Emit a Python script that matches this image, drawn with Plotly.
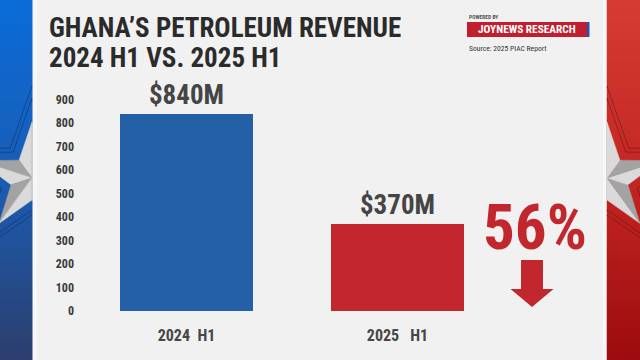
import math
import plotly.graph_objects as go

# ---- data ----
categories = ["2024\u00a0\u00a0H1", "2025\u00a0\u00a0\u00a0H1"]
revenue_musd = [840, 370]
y_ticks = [0, 100, 200, 300, 400, 500, 600, 700, 800, 900]
bar_colors = ["#2360a8", "#c1272d"]

W, H = 640, 360
def X(px):
    return px / W
def Y(py):
    return 1 - py / H

FONT = "Roboto Condensed, Liberation Sans Narrow, Roboto, DejaVu Sans Condensed, sans-serif"

decline = round((revenue_musd[0] - revenue_musd[1]) / revenue_musd[0] * 100)

fig = go.Figure()
fig.add_trace(go.Bar(
    x=categories, y=revenue_musd, width=0.63,
    marker=dict(color=bar_colors, line=dict(width=0)),
    texttemplate="$%{y}M", textposition="outside", cliponaxis=False,
    constraintext="none",
    outsidetextfont=dict(family=FONT, size=27, color="#454545", weight="bold"),
    hoverinfo="skip",
))

shapes = []
def rect(x0, y0, x1, y1, color):
    shapes.append(dict(type="rect", xref="paper", yref="paper",
                       x0=X(x0), x1=X(x1), y0=Y(y0), y1=Y(y1),
                       fillcolor=color, line=dict(width=0), layer="below"))

def lerp(c0, c1, t):
    return "rgb(%d,%d,%d)" % tuple(round(a + (b - a) * t) for a, b in zip(c0, c1))

# gradient strips
nb = 36
blue_top, blue_mid, blue_bot = (10, 108, 216), (26, 92, 180), (45, 62, 108)
red_top, red_mid, red_bot = (212, 60, 50), (196, 38, 34), (156, 11, 14)
for i in range(nb):
    t = (i + 0.5) / nb
    if t < 0.5:
        cb = lerp(blue_top, blue_mid, t * 2); cr = lerp(red_top, red_mid, t * 2)
    else:
        cb = lerp(blue_mid, blue_bot, (t - 0.5) * 2); cr = lerp(red_mid, red_bot, (t - 0.5) * 2)
    y0 = i * H / nb; y1 = (i + 1) * H / nb + 0.6
    rect(0, y0, 33, y1, cb)
    rect(606.5, y0, 640, y1, cr)

def star_pts(cx, cy, R, r):
    pts = []
    for k in range(10):
        ang = math.radians(90 + 36 * k)
        rad = R if k % 2 == 0 else r
        pts.append((cx + rad * math.cos(ang), cy - rad * math.sin(ang)))
    return pts

def path_of(pts):
    return "M " + " L ".join("%.4f,%.4f" % (X(a), Y(b)) for a, b in pts) + " Z"

def star(cx, cy, mirror=False):
    for R, r in [(92, 37), (80, 32)]:
        shapes.append(dict(type="path", xref="paper", yref="paper",
                           path=path_of(star_pts(cx, cy, R, r)),
                           line=dict(color="rgba(0,0,30,0.28)", width=1),
                           fillcolor="rgba(0,0,0,0)", layer="below"))
    pts = star_pts(cx, cy, 56, 22)
    for k in range(10):
        a = pts[k]; b = pts[(k + 1) % 10]
        light = (k % 2 == 0) != mirror
        col = "#dadada" if light else "#a3a3a3"
        shapes.append(dict(type="path", xref="paper", yref="paper",
                           path=path_of([(cx, cy), a, b]),
                           fillcolor=col, line=dict(color=col, width=0.5), layer="below"))

star(32, 178)
star(607, 178, mirror=True)

# center panel
rect(32.5, 0, 606.5, 360, "#f7f7f7")
rect(37, 0, 603, 360, "#f1f1f1")

# JOYNEWS box
rect(467, 22, 587, 37, "#c11f2f")
rect(587, 22, 589.5, 37, "#2453b3")

# arrow
arrow = [(521, 260), (543, 260), (543, 289), (553.5, 289), (532, 307),
         (510.5, 289), (521, 289)]
shapes.append(dict(type="path", xref="paper", yref="paper", path=path_of(arrow),
                   fillcolor="#c1272d", line=dict(width=0), layer="above"))

annotations = [
    dict(text="GHANA\u2019S PETROLEUM REVENUE", x=X(47), y=Y(28), xanchor="left", yanchor="middle",
         font=dict(family=FONT, size=27, color="#2b2b2b", weight="bold")),
    dict(text="2024 H1 VS. 2025 H1", x=X(47), y=Y(58), xanchor="left", yanchor="middle",
         font=dict(family=FONT, size=27, color="#2b2b2b", weight="bold")),
    dict(text="POWERED BY", x=X(467), y=Y(17), xanchor="left", yanchor="middle",
         font=dict(family=FONT, size=5.5, color="#555555", weight="bold")),
    dict(text="JOYNEWS RESEARCH", x=X(527), y=Y(29.5), xanchor="center", yanchor="middle",
         font=dict(family=FONT, size=11.3, color="#ffffff", weight="bold")),
    dict(text="Source: 2025 PIAC Report", x=X(467), y=Y(49), xanchor="left", yanchor="middle",
         font=dict(family=FONT, size=7.6, color="#333333")),
    dict(text="%d%%" % decline, x=X(535), y=Y(227), xanchor="center", yanchor="middle",
         font=dict(family=FONT, size=63, color="#c1272d", weight="bold")),
]
for a in annotations:
    a.update(xref="paper", yref="paper", showarrow=False)

fig.update_layout(
    width=W, height=H, margin=dict(l=0, r=0, t=0, b=0, pad=0, autoexpand=False),
    paper_bgcolor="#f1f1f1", plot_bgcolor="rgba(0,0,0,0)",
    showlegend=False, shapes=shapes, annotations=annotations, bargap=0,
    xaxis=dict(domain=[X(75), X(560)], range=[-0.5284, 1.7701], type="category",
               showgrid=False, zeroline=False, showline=False, automargin=False,
               ticks="outside", ticklen=10, tickcolor="rgba(0,0,0,0)",
               tickfont=dict(family=FONT, size=16, color="#464646", weight="bold")),
    yaxis=dict(domain=[Y(311), Y(89.9)], range=[0, 940], tickvals=y_ticks,
               showgrid=False, zeroline=False, showline=False, ticks="", automargin=False,
               tickfont=dict(family=FONT, size=12, color="#3a3a3a", weight="bold")),
)
fig.write_html("out.html", config={"displayModeBar": False},
               post_script="document.body.style.margin='0';document.body.style.overflow='hidden';")
